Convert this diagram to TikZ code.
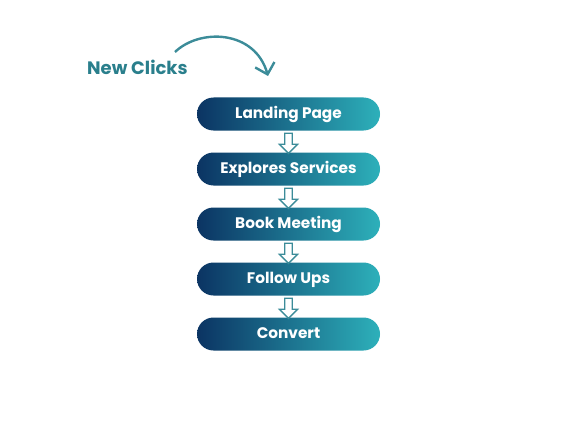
\documentclass[tikz,border=0pt]{standalone}
\usepackage{fontspec}
\setmainfont{Poppins}
\usetikzlibrary{arrows.meta,shapes.arrows}
\definecolor{navy}{HTML}{0B3463}
\definecolor{tealr}{HTML}{2DB0BA}
\definecolor{tealtxt}{HTML}{2A7F8C}
\definecolor{arrowc}{HTML}{3C8C99}
\tikzset{
  pill/.style={rounded corners=16.5pt, minimum width=183pt, minimum height=33pt,
    left color=navy, right color=tealr, text=white, font=\bfseries\fontsize{15.3}{18}\selectfont, inner sep=0pt,
    text height=11pt, text depth=3pt},
  hollow/.style={draw=arrowc, line width=1.3pt, fill=white, single arrow, shape border rotate=270,
    minimum width=18pt, single arrow head extend=5pt, single arrow tip angle=90, minimum height=20pt, inner sep=2.8pt}
}
\begin{document}
\begin{tikzpicture}[x=1pt,y=-1pt]
\useasboundingbox[fill=white] (0,0) rectangle (577,433);
\node[pill] (p1) at (288.5,114) {Landing Page};
\node[pill] (p2) at (288.5,169) {Explores Services};
\node[pill] (p3) at (288.5,224) {Book Meeting};
\node[pill] (p4) at (288.5,279) {Follow Ups};
\node[pill] (p5) at (288.5,334) {Convert};
\foreach \a/\b in {p1/p2,p2/p3,p3/p4,p4/p5}{
  \path (\a.south) -- (\b.north) node[midway, hollow] {};
}
\node[text=tealtxt, font=\bfseries\fontsize{18}{21}\selectfont, anchor=west, inner sep=0pt] (nc) at (87,67) {New Clicks};
\coordinate (cs) at (175,52);
\coordinate (ce) at (268,76);
\draw[arrowc, line width=2.4pt, -{Straight Barb[length=10pt,width=20pt,line width=2.4pt]}]
  (cs) .. controls (200,28) and (255,30) .. (ce);
\end{tikzpicture}
\end{document}
